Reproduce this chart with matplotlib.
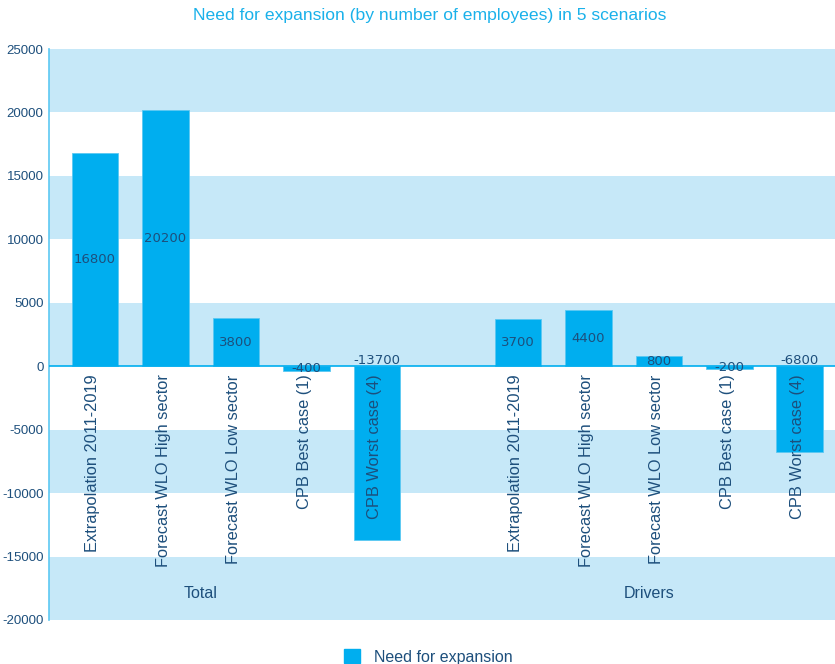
import matplotlib
matplotlib.use("Agg")
import matplotlib.pyplot as plt
from matplotlib.patches import Patch

# Scenario data
scenarios = ["Extrapolation 2011-2019", "Forecast WLO High sector", "Forecast WLO Low sector",
             "CPB Best case (1)", "CPB Worst case (4)"]
groups = ["Total", "Drivers"]
total_values = [16800, 20200, 3800, -400, -13700]
driver_values = [3700, 4400, 800, -200, -6800]
y_ticks = [-20000, -15000, -10000, -5000, 0, 5000, 10000, 15000, 20000, 25000]

BAR = "#00aeef"
BAND = "#c6e8f8"
TXT = "#1d4f7c"
TITLE = "#1ab1ea"

fig = plt.figure(figsize=(8.35, 6.64), dpi=100)
ax = fig.add_axes([0.0587, 0.0663, 0.9413, 0.8599])

# alternating horizontal bands
for i, lo in enumerate(range(-20000, 25000, 5000)):
    if i % 2 == 0:
        ax.axhspan(lo, lo + 5000, color=BAND, lw=0, zorder=0)

positions = list(range(5)) + list(range(6, 11))
values = total_values + driver_values
labels = scenarios + scenarios

ax.bar(positions, values, width=0.66, color=BAR, edgecolor="#5cc8f2", lw=0.6, zorder=2)
ax.axhline(0, color=BAR, lw=1.2, zorder=3)

for x, v, lab in zip(positions, values, labels):
    # value labels
    if v > -1000:
        ax.text(x, v / 2, f"{v}", ha="center", va="center", fontsize=9.5,
                color=TXT, family="DejaVu Sans", zorder=4)
    else:
        ax.text(x, 450, f"{v}", ha="center", va="center", fontsize=9.5,
                color=TXT, family="DejaVu Sans", zorder=4)
    # category labels
    ax.text(x - 0.03, -650, lab, rotation=90, ha="center", va="top", fontsize=11.8,
            color=TXT, family="Liberation Sans", zorder=4)

ax.text(1.5, -17900, groups[0], ha="center", va="center", fontsize=11.5,
        color=TXT, family="Liberation Sans")
ax.text(7.87, -17900, groups[1], ha="center", va="center", fontsize=11.5,
        color=TXT, family="Liberation Sans")

ax.set_xlim(-0.65, 10.5)
ax.set_ylim(-20000, 25000)
ax.set_xticks([])
ax.set_yticks(y_ticks)
ax.set_yticklabels([str(t) for t in y_ticks], family="Liberation Sans", fontsize=9.5, color=TXT)
ax.tick_params(axis="y", length=0, pad=4)
for s in ["top", "right", "bottom"]:
    ax.spines[s].set_visible(False)
ax.spines["left"].set_color("#5cc8f2")
ax.spines["left"].set_linewidth(1.2)

fig.text(0.515, 0.977, "Need for expansion (by number of employees) in 5 scenarios",
         ha="center", va="center", fontsize=12.6, color=TITLE, family="Liberation Sans")

fig.legend(handles=[Patch(facecolor=BAR, edgecolor=BAR)], labels=["Need for expansion"],
           loc="center", bbox_to_anchor=(0.513, 0.011), frameon=False,
           prop={"family": "Liberation Sans", "size": 11.5}, labelcolor=TXT,
           handlelength=1.0, handleheight=1.0, handletextpad=0.9)

fig.savefig("out.png", dpi=100)
